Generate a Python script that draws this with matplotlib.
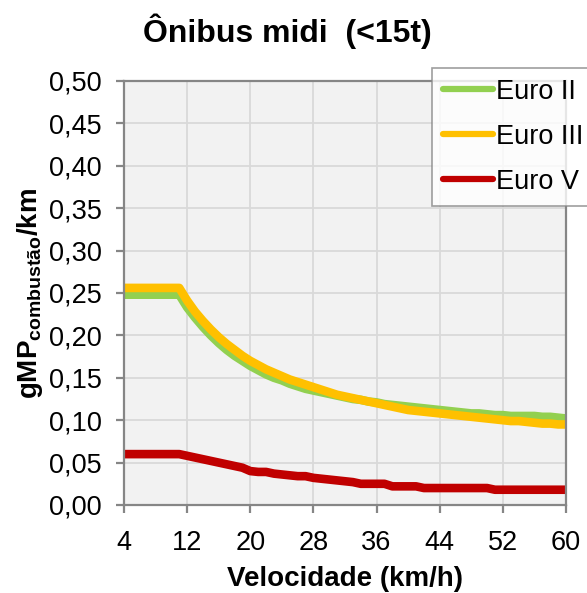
import matplotlib
matplotlib.use("Agg")
import matplotlib.pyplot as plt

plt.rcParams["font.family"] = ["Liberation Sans", "DejaVu Sans"]
plt.rcParams["mathtext.fontset"] = "custom"
plt.rcParams["mathtext.rm"] = "Liberation Sans"
plt.rcParams["mathtext.bf"] = "Liberation Sans:bold"

# speed (km/h)
speeds = list(range(4, 61))

euro_ii = [0.248] * 8 + [
    0.233, 0.221, 0.210, 0.200, 0.191, 0.183, 0.176, 0.170, 0.164, 0.159,
    0.154, 0.150, 0.147, 0.143, 0.140, 0.137, 0.135, 0.133, 0.131, 0.129,
    0.127, 0.125, 0.124, 0.122, 0.121, 0.119, 0.118, 0.117, 0.116, 0.115,
    0.114, 0.113, 0.112, 0.111, 0.110, 0.109, 0.108, 0.108, 0.107, 0.106,
    0.106, 0.105, 0.105, 0.105, 0.105, 0.104, 0.104, 0.103, 0.102,
]
euro_iii = [0.256] * 8 + [
    0.241, 0.228, 0.217, 0.207, 0.198, 0.190, 0.183, 0.176, 0.170, 0.165,
    0.160, 0.156, 0.152, 0.148, 0.145, 0.142, 0.139, 0.136, 0.133, 0.130,
    0.128, 0.126, 0.124, 0.122, 0.120, 0.118, 0.116, 0.114, 0.112, 0.111,
    0.110, 0.109, 0.108, 0.107, 0.106, 0.105, 0.104, 0.103, 0.102, 0.101,
    0.100, 0.099, 0.099, 0.098, 0.097, 0.096, 0.096, 0.095, 0.095,
]
euro_v = [0.060] * 8 + [
    0.058, 0.056, 0.054, 0.052, 0.050, 0.048, 0.046, 0.044, 0.040, 0.039,
    0.039, 0.037, 0.036, 0.035, 0.034, 0.034, 0.032, 0.031, 0.030, 0.029,
    0.028, 0.027, 0.025, 0.025, 0.025, 0.025, 0.022, 0.022, 0.022, 0.022,
    0.020, 0.020, 0.020, 0.020, 0.020, 0.020, 0.020, 0.020, 0.020, 0.018,
    0.018, 0.018, 0.018, 0.018, 0.018, 0.018, 0.018, 0.018, 0.018,
]

series = [
    ("Euro II", euro_ii, "#92D050"),
    ("Euro III", euro_iii, "#FFC000"),
    ("Euro V", euro_v, "#C00000"),
]

x_ticks = [4, 12, 20, 28, 36, 44, 52, 60]
y_ticks = [0.0, 0.05, 0.10, 0.15, 0.20, 0.25, 0.30, 0.35, 0.40, 0.45, 0.50]

fig = plt.figure(figsize=(5.87, 5.93), dpi=100)
ax = fig.add_axes((124 / 587, 1 - 505 / 593, 442 / 587, 424 / 593))
ax.set_facecolor("#f2f2f2")

for label, values, color in series:
    ax.plot(speeds, values, color=color, lw=6.2, label=label,
            solid_capstyle="butt", solid_joinstyle="round")

ax.set_xlim(4, 60)
ax.set_ylim(0, 0.5)
ax.set_xticks(x_ticks)
ax.set_yticks(y_ticks)
ax.set_yticklabels([f"{v:.2f}".replace(".", ",") for v in y_ticks])
ax.grid(True, color="#d9d9d9", lw=1.3)
ax.set_axisbelow(True)

for sp in ax.spines.values():
    sp.set_color("#868686")
    sp.set_linewidth(1.6)
ax.tick_params(axis="both", colors="#868686", length=6, width=1.6,
               labelsize=19.5, labelcolor="black")
ax.tick_params(axis="y", pad=10)
ax.tick_params(axis="x", pad=12)

ax.set_xlabel("Velocidade (km/h)", fontsize=20, fontweight="bold", labelpad=7)
ax.set_ylabel(r"$\mathbf{gMP_{combustão}/km}$", fontsize=20, labelpad=3)

fig.text(0.49, 0.947, "Ônibus midi  (<15t)", fontsize=23, fontweight="bold",
         ha="center", va="center")

leg = fig.legend(loc="upper left", bbox_to_anchor=(432 / 587, 1 - 68 / 593),
                 fontsize=19.5, frameon=True, fancybox=False, borderaxespad=0,
                 handlelength=1.85, handletextpad=0.1, labelspacing=0.7,
                 borderpad=0.4)
leg.get_frame().set_edgecolor("#868686")
leg.get_frame().set_linewidth(1.2)
for h in leg.get_lines():
    h.set_linewidth(4.5)
    h.set_solid_capstyle("round")

fig.savefig("out.png", dpi=100)
